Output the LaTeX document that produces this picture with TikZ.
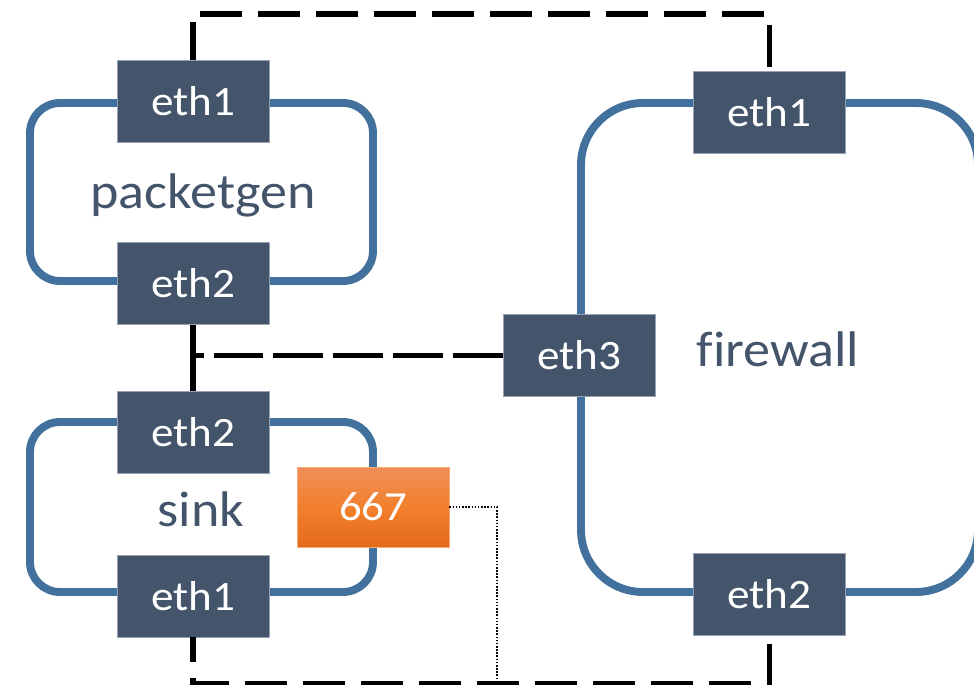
\documentclass[tikz,border=0pt]{standalone}
\usepackage{fontspec}
\setmainfont{Carlito}[FakeStretch=1.08, Ligatures=NoCommon]
\usepackage{xcolor}
\usepackage{tikz}
\usetikzlibrary{
	shadings,
}
\definecolor{portgray}{RGB}{68,84,106}
\definecolor{portedge}{RGB}{150,162,180}
\definecolor{hostblue}{RGB}{65,113,156}
\definecolor{tagtop}{RGB}{240,142,88}
\definecolor{tagmid}{RGB}{242,128,44}
\definecolor{tagbot}{RGB}{228,106,26}
\definecolor{tagedge}{RGB}{244,170,120}

\begin{document}
\begin{tikzpicture}[x=0.02cm, y=-0.02cm,
	port/.style={fill=portgray, draw=portedge, line width=0.5pt, text=white,
		minimum width=3.04cm, minimum height=1.64cm, inner sep=0pt,
		font=\fontsize{23.8}{25}\selectfont},
	tag/.style={top color=tagtop, bottom color=tagbot, middle color=tagmid,
		draw=tagedge, line width=0.5pt, text=white,
		minimum width=3.04cm, minimum height=1.6cm, inner sep=0pt,
		font=\fontsize{23.5}{25}\selectfont},
	host/.style={draw=hostblue, line width=4.5pt},
	hostname/.style={text=portgray, anchor=base, inner sep=0pt,
		font=\fontsize{28.5}{30}\selectfont},
	wire/.style={line width=3.4pt, dash pattern=on 23.9pt off 9.1pt},
	lanwire/.style={line width=3.4pt, dash pattern=on 28.4pt off 5.7pt},
	tapwire/.style={line width=1.1pt, dash pattern=on 0.9pt off 0.9pt},
	]
	\useasboundingbox (0,0) rectangle (974,685);

	\draw[host, rounded corners=0.6cm] (30,103) rectangle (373,281);
	\draw[host, rounded corners=0.6cm] (30,422) rectangle (373,592);
	\draw[host, rounded corners=1.24cm] (581,103) rectangle (978,592);

	\node[port] (pg1) at (193,101) {eth1};
	\node[port] (pg2) at (193,283.5) {eth2};
	\node[port] (sk2) at (193,432) {eth2};
	\node[port] (sk1) at (193,596) {eth1};
	\node[port] (fw1) at (769.5,112) {eth1};
	\node[port] (fw3) at (579.5,355.5) {eth3};
	\node[port] (fw2) at (769.5,594) {eth2};
	\node[tag] (d667) at (373,507) {667};

	\node[hostname] (pgname) at (203,209) {packetgen};
	\node[hostname] (skname) at (201,527) {sink};
	\node[hostname] (fwname) at (778,367) {firewall};

	\coordinate (topline) at (0,14);
	\coordinate (botline) at (0,684);
	\coordinate (jn) at (pg2.south |- fw3.west);
	\coordinate (tap) at (497,684);

	\draw[wire, dash phase=2.8pt] (pg1.north) -- (pg1.north |- topline) -| (fw1.north);
	\draw[wire, dash phase=9.7pt] (sk1.south) -- (sk1.south |- botline) -| (fw2.south);
	\draw[lanwire] (fw3.west) -- (jn);
	\draw[lanwire] (jn) -- (pg2.south);
	\draw[lanwire] (jn) -- (sk2.north);
	\draw[tapwire] (d667.east) -| (tap);
\end{tikzpicture}
\end{document}
